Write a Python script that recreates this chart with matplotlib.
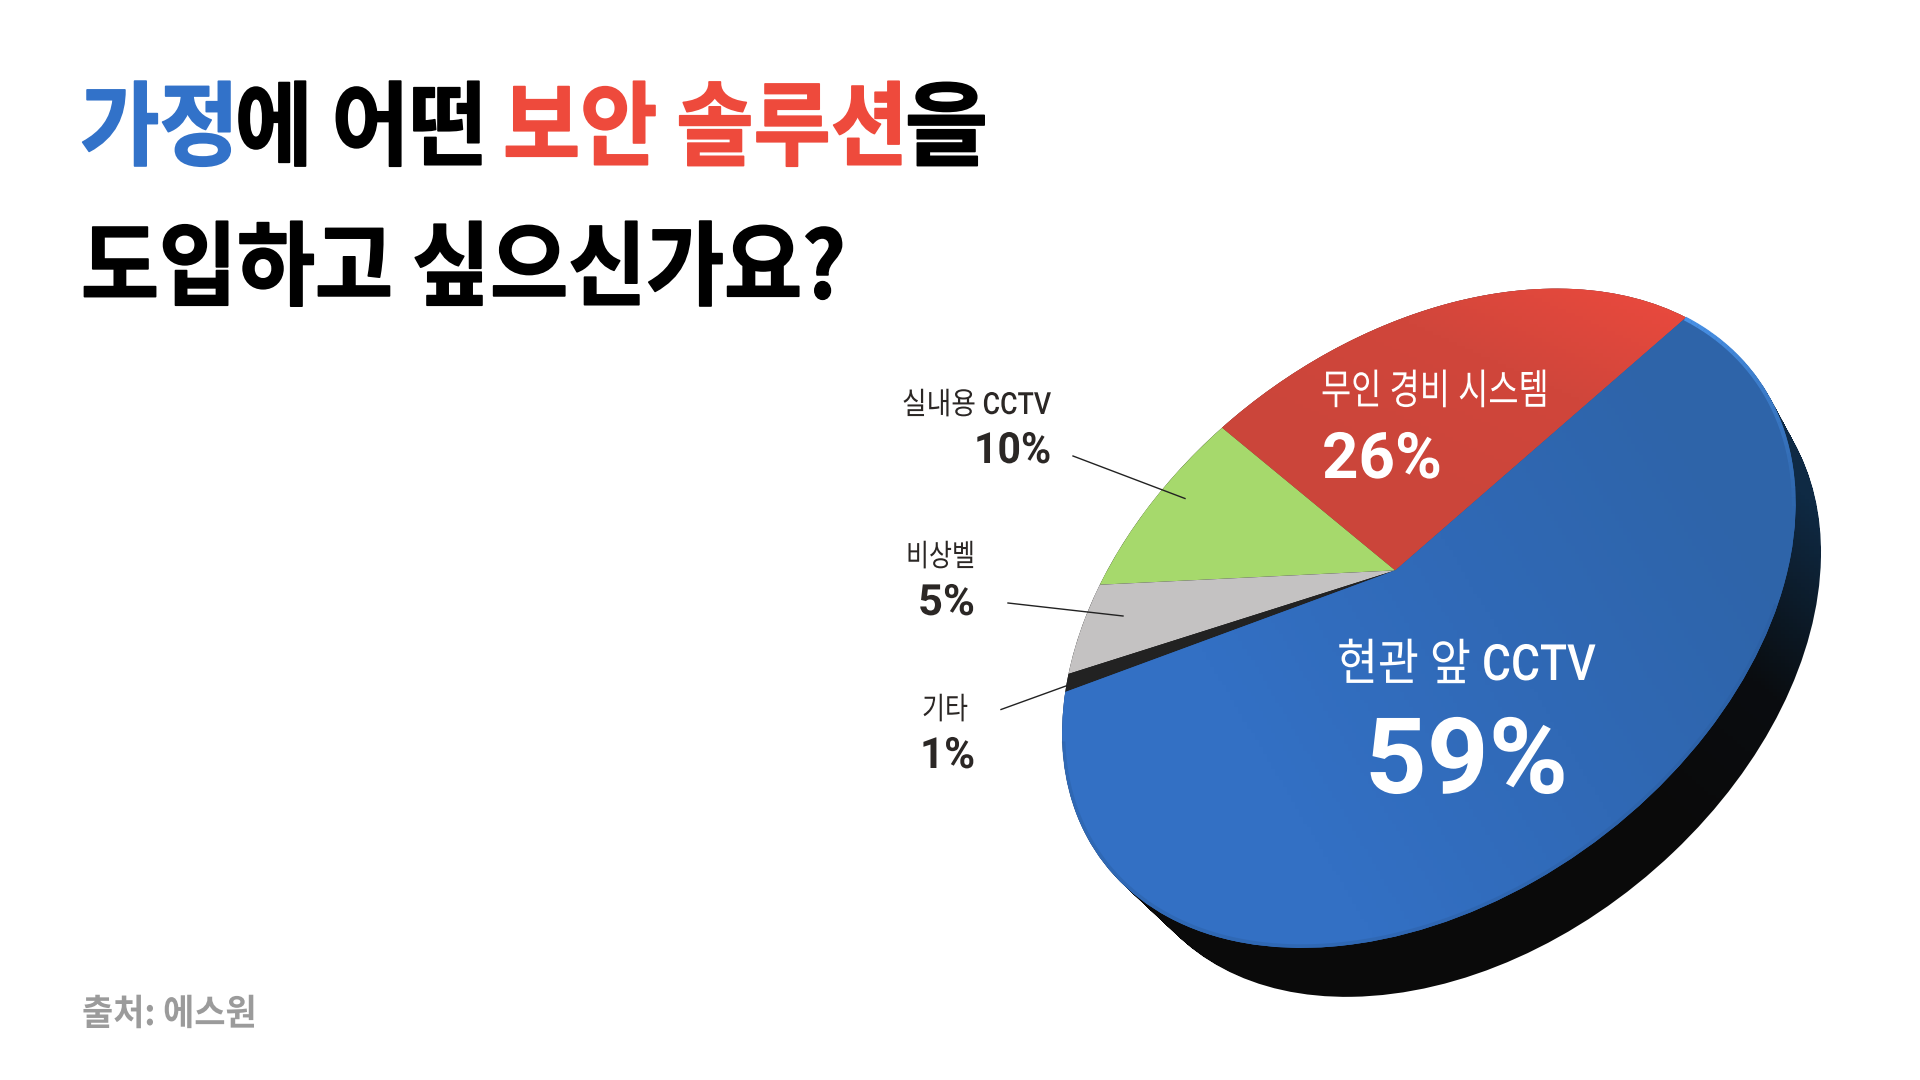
import numpy as np
import matplotlib
matplotlib.use("Agg")
import matplotlib.pyplot as plt
from matplotlib.colors import LinearSegmentedColormap
from matplotlib.patches import Circle
from matplotlib.path import Path
from matplotlib.patheffects import AbstractPathEffect
from matplotlib.transforms import Affine2D, Transform

# data
slice_names = ["무인 경비 시스템", "실내용 CCTV", "비상벨", "기타", "현관 앞 CCTV"]
slice_values = [26, 10, 5, 1, 59]
slice_colors = ["#d0463b", "#a6d96c", "#c4c2c2", "#222222", "#3069b6"]

KR = "Noto Sans CJK KR"
MIXED = ["Roboto", KR]


class Perspective(Transform):
    # homography that lays the flat pie down on the tilted disc
    input_dims = 2
    output_dims = 2
    is_separable = False
    has_inverse = False

    def __init__(self, matrix):
        super().__init__()
        self.matrix = matrix

    def transform_non_affine(self, values):
        pts = np.column_stack([values, np.ones(len(values))]) @ self.matrix.T
        return pts[:, :2] / pts[:, 2:]

    def transform_path_non_affine(self, path):
        return Path(self.transform_non_affine(path.vertices), path.codes)


class SqueezeX(AbstractPathEffect):
    # the reference font is narrower than Noto, so squeeze text sideways
    # stroke thickens the letters a bit where Noto Bold is too light
    def __init__(self, sx, stroke=0):
        super().__init__()
        self.sx = sx
        self.stroke = stroke

    def draw_path(self, renderer, gc, tpath, affine, rgbFace=None):
        squeezed = Affine2D().scale(self.sx, 1) + affine
        if self.stroke:
            gc0 = renderer.new_gc()
            gc0.copy_properties(gc)
            gc0.set_foreground(rgbFace)
            gc0.set_linewidth(self.stroke)
            renderer.draw_path(gc0, tpath, squeezed, rgbFace)
            gc0.restore()
        else:
            renderer.draw_path(gc, tpath, squeezed, rgbFace)


def fit_homography(src, dst):
    rows = []
    for (x, y), (u, v) in zip(src, dst):
        rows.append([x, y, 1, 0, 0, 0, -u * x, -u * y, -u])
        rows.append([0, 0, 0, x, y, 1, -v * x, -v * y, -v])
    return np.linalg.svd(np.array(rows))[2][-1].reshape(3, 3)


fig = plt.figure(figsize=(19.2, 10.8), dpi=100)
ax = fig.add_axes([0, 0, 1, 1])

wedges, _ = ax.pie(slice_values, colors=slice_colors, startangle=0, counterclock=True)

# where slice edges land on the page
fractions = np.cumsum(slice_values) / np.sum(slice_values) * 2 * np.pi
angles = [0, fractions[0], fractions[1], fractions[2], fractions[3], np.pi, fractions[0] + np.pi]
page = [(1687, 318), (1221, 428), (1098, 585), (1072, 671), (1066, 692), (1086, 841), (1658, 786)]
src = [(0, 0)] + [(np.cos(a), np.sin(a)) for a in angles]
dst = [(1395, 570.5)] + page
persp = Perspective(fit_homography(src, dst))
disc = persp + ax.transData

ax.set_xlim(0, 1920)
ax.set_ylim(1080, 0)
ax.set_aspect("auto")
ax.axis("off")

for w in wedges:
    w.set_transform(disc)
    w.set_zorder(3)
    w.set_clip_on(False)

# side of the disc: stack of shifted, slightly narrowing copies, shaded navy to black
side_paths = []
circle_path = Circle((0, 0), 1).get_path()
for k in np.linspace(0, 1, 30):
    shifted = persp.transform_path_non_affine(circle_path)
    v = shifted.vertices.copy()
    v[:, 0] = 1430 + (v[:, 0] - 1430) * (1 - 0.04 * k) + 40 * k
    v[:, 1] += 49 * k
    side_paths.append(Path(v, shifted.codes))
side = Path.make_compound_path(*side_paths)

extent = [1040, 1850, 1010, 280]
xx, yy = np.meshgrid(np.linspace(0, 1, 200), np.linspace(0, 1, 200))

side_cmap = LinearSegmentedColormap.from_list("side", ["#0a0a0a", "#0a0d10", "#0f2a44"])
side_im = ax.imshow(np.clip((xx * 1.5 - yy * 1.6) + 0.05, 0, 1), extent=extent, cmap=side_cmap,
                    vmin=0, vmax=1, aspect="auto", zorder=2)
side_im.set_clip_path(side, ax.transData)

# soft light across the two big slices
red_cmap = LinearSegmentedColormap.from_list("red", ["#cb453a", "#d0463b", "#ee4a3e"])
red_im = ax.imshow(np.clip((xx * 1.1 - yy * 2.2) + 0.12, 0, 1), extent=extent, cmap=red_cmap,
                   vmin=0, vmax=1, aspect="auto", zorder=4)
red_im.set_clip_path(wedges[0])

blue_cmap = LinearSegmentedColormap.from_list("blue", ["#3370c4", "#3069b6", "#2e64a9"])
blue_im = ax.imshow(np.clip(xx * 1.3 - yy * 0.7 + 0.1, 0, 1), extent=extent, cmap=blue_cmap,
                    vmin=0, vmax=1, aspect="auto", zorder=4)
blue_im.set_clip_path(wedges[4])

ax.set_xlim(0, 1920)
ax.set_ylim(1080, 0)

# bright bevel on the upper right rim fades out, dull bevel on the lower left
rim = np.radians(np.linspace(0, -46, 31))
for i in range(30):
    ax.plot(np.cos(rim[i:i + 2]) * 0.996, np.sin(rim[i:i + 2]) * 0.996, transform=disc, color="#4a94ea",
            lw=3, alpha=0.95 * (1 - i / 30), zorder=5, solid_capstyle="butt")
theta = np.radians(np.linspace(160, 300, 120))
ax.plot(np.cos(theta) * 0.996, np.sin(theta) * 0.996, transform=disc, color="#2b5c9e", lw=2.5, alpha=0.4,
        zorder=5)

# leader lines
ax.plot([1073, 1185], [456, 498.5], color="#222222", lw=1, zorder=6)
ax.plot([1008, 1123], [603, 616], color="#222222", lw=1, zorder=6)
ax.plot([1001, 1088], [709.5, 678], color="#222222", lw=1, zorder=6)

renderer = fig.canvas.get_renderer()


def put(s, x0, x1, baseline, size, color, family=KR, weight="regular", stroke=0):
    t = ax.text(x0, baseline, s, fontsize=size, color=color, family=family, weight=weight,
                ha="left", va="baseline", zorder=7)
    width = t.get_window_extent(renderer).width
    t.set_path_effects([SqueezeX((x1 - x0) / width, stroke)])
    return t


BLACK = "#000000"
BLUE = "#3272c9"
RED = "#ee4a3c"
INK = "#2b2725"

# title
put("가정", 80, 239, 158, 66, BLUE, weight="black", stroke=1.2)
put("에 어떤", 235, 487, 158, 66, BLACK, weight="black", stroke=1.2)
put("보안 솔루션", 503, 908, 158, 66, RED, weight="black", stroke=1.2)
put("을", 905, 988, 158, 66, BLACK, weight="black", stroke=1.2)
put("도입하고 싶으신가요?", 81, 846, 298, 66, BLACK, weight="black", stroke=1.2)

# labels inside the pie
put(slice_names[0], 1321, 1549, 404, 30, "white", family=MIXED, weight="medium")
put(f"{slice_values[0]}%", 1322, 1442, 478, 46, "white", family=MIXED, weight="bold")
put(slice_names[4], 1337, 1596, 680, 36, "white", family=MIXED, weight="medium")
put(f"{slice_values[4]}%", 1365, 1568, 793, 76, "white", family=MIXED, weight="bold")

# labels outside the pie
put(slice_names[1], 902, 1051, 414, 22, INK, family=MIXED, weight="medium")
put(f"{slice_values[1]}%", 974, 1051, 463, 31, INK, family=MIXED, weight="bold")
put(slice_names[2], 906, 975, 566, 22, INK, family=MIXED, weight="medium")
put(f"{slice_values[2]}%", 918, 975, 615, 31, INK, family=MIXED, weight="bold")
put(slice_names[3], 922, 968, 719, 22, INK, family=MIXED, weight="medium")
put(f"{slice_values[3]}%", 920, 975, 768, 31, INK, family=MIXED, weight="bold")

# source
put("출처: 에스원", 82, 257, 1025, 26, "#9b9b9b", weight="bold")

fig.savefig("out.png", dpi=100, facecolor="white")
